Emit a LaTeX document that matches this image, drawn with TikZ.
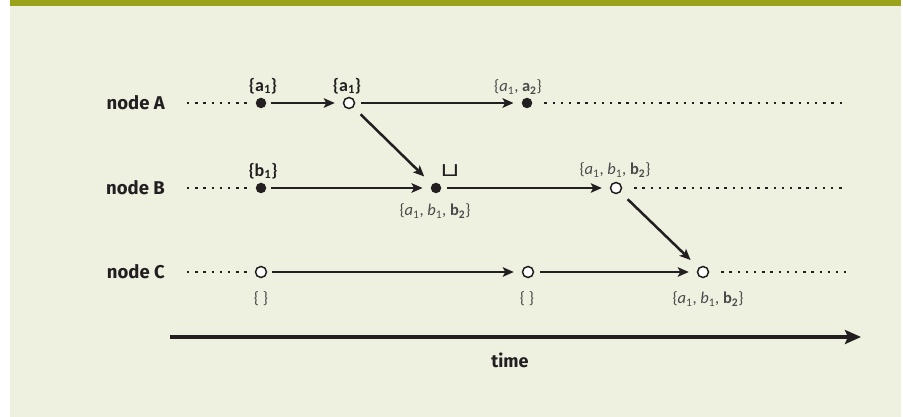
\documentclass[tikz,border=0pt]{standalone}
\usepackage{fontspec}
\setmainfont{Carlito}
\newfontfamily\headfont{Fira Sans}
\newfontfamily\symfont{DejaVu Sans}
\usetikzlibrary{arrows.meta}
\definecolor{ink}{HTML}{231F20}
\definecolor{settxt}{HTML}{4A4A4A}
\definecolor{panel}{HTML}{EEF0E0}
\definecolor{band}{HTML}{9AA219}
\tikzset{
  rowlabel/.style={anchor=east, font=\headfont\bfseries\fontsize{18.5}{18.5}\selectfont, text=ink, inner sep=0pt},
  setlbl/.style={font=\fontsize{16.5}{16.5}\selectfont, text=settxt, inner sep=0pt},
  setbold/.style={font=\bfseries\fontsize{18}{18}\selectfont, text=ink, inner sep=0pt},
  fdot/.style={circle, fill=ink, minimum size=10.5pt, inner sep=0pt},
  odot/.style={circle, draw=ink, fill=white, line width=1.5pt, minimum size=11pt, inner sep=0pt},
  msg/.style={draw=ink, line width=2.5pt, -{Stealth[length=11pt,width=9.5pt,inset=2.5pt]}},
  dots/.style={draw=ink, line width=2.3pt, dash pattern=on 2.3pt off 5.9pt},
}
\begin{document}
\begin{tikzpicture}[x=1pt,y=-1pt]
\useasboundingbox (0,0) rectangle (903,417);
\fill[white] (0,0) rectangle (903,417);
\fill[panel] (10,0) rectangle (901,417);
\fill[band] (10,0) rectangle (901,6);

% row labels
\node[rowlabel] (la) at (165,103) {node A};
\node[rowlabel] (lb) at (165,188) {node B};
\node[rowlabel] (lc) at (165,272) {node C};

% events
\node[fdot] (a1) at (261,103) {};
\node[odot] (a2) at (349,103) {};
\node[fdot] (a3) at (527,103) {};
\node[fdot] (b1) at (261,188) {};
\node[fdot] (b2) at (436,188) {};
\node[odot] (b3) at (616,188) {};
\node[odot] (c1) at (261,272) {};
\node[odot] (c2) at (528,272) {};
\node[odot] (c3) at (703,272) {};

% dotted ends
\coordinate (as) at (187,103); \coordinate (ae) at (846,103);
\coordinate (bs) at (187,188); \coordinate (be) at (846,188);
\coordinate (cs) at (187,272); \coordinate (ce) at (846,272);
\draw[dots] (as) -- ([xshift=-5pt]a1.west);
\draw[dots] ([xshift=12pt]a3.east) -- (ae);
\draw[dots] (bs) -- ([xshift=-5pt]b1.west);
\draw[dots] ([xshift=12pt]b3.east) -- (be);
\draw[dots] (cs) -- ([xshift=-5pt]c1.west);
\draw[dots] ([xshift=12pt]c3.east) -- (ce);

% messages
\draw[msg, shorten <=5pt, shorten >=8pt] (a1) -- (a2);
\draw[msg, shorten <=6pt, shorten >=8pt] (a2) -- (a3);
\draw[msg, shorten <=10pt, shorten >=11pt] (a2) -- (b2);
\draw[msg, shorten <=5pt, shorten >=8pt] (b1) -- (b2);
\draw[msg, shorten <=6pt, shorten >=8pt] (b2) -- (b3);
\draw[msg, shorten <=10pt, shorten >=11pt] (b3) -- (c3);
\draw[msg, shorten <=5pt, shorten >=8pt] (c1) -- (c2);
\draw[msg, shorten <=6pt, shorten >=8pt] (c2) -- (c3);

% set labels
\node[setbold] (ta1) at (263,86) {\{a\textsubscript{1}\}};
\node[setbold] (ta2) at (347,86) {\{a\textsubscript{1}\}};
\node[setlbl] (ta3) at (518,87) {\{\textit{a}\textsubscript{1}, \textbf{a\textsubscript{2}}\}};
\node[setbold] (tb1) at (263,171) {\{b\textsubscript{1}\}};
\node[setlbl] (tb2) at (435,211) {\{\textit{a}\textsubscript{1}, \textit{b}\textsubscript{1}, \textbf{b\textsubscript{2}}\}};
\node[setlbl] (tb3) at (615,170) {\{\textit{a}\textsubscript{1}, \textit{b}\textsubscript{1}, \textbf{b\textsubscript{2}}\}};
\node[setlbl] (tc1) at (261,299) {\{ \}};
\node[setlbl] (tc2) at (527,299) {\{ \}};
\node[setlbl] (tc3) at (708,299) {\{\textit{a}\textsubscript{1}, \textit{b}\textsubscript{1}, \textbf{b\textsubscript{2}}\}};
\node[font=\symfont\fontsize{19}{19}\selectfont, text=ink, inner sep=0pt, xscale=1.3, transform shape] (join) at (450,171) {⊔};

% time axis
\coordinate (t0) at (170,337);
\coordinate (t1) at (861,337);
\draw[draw=ink, line width=4.8pt, -{Stealth[length=16pt,width=14pt,inset=3pt]}] (t0) -- (t1);
\node[font=\headfont\bfseries\fontsize{18}{18}\selectfont, text=ink] (time) at (510,360) {time};
\end{tikzpicture}
\end{document}
